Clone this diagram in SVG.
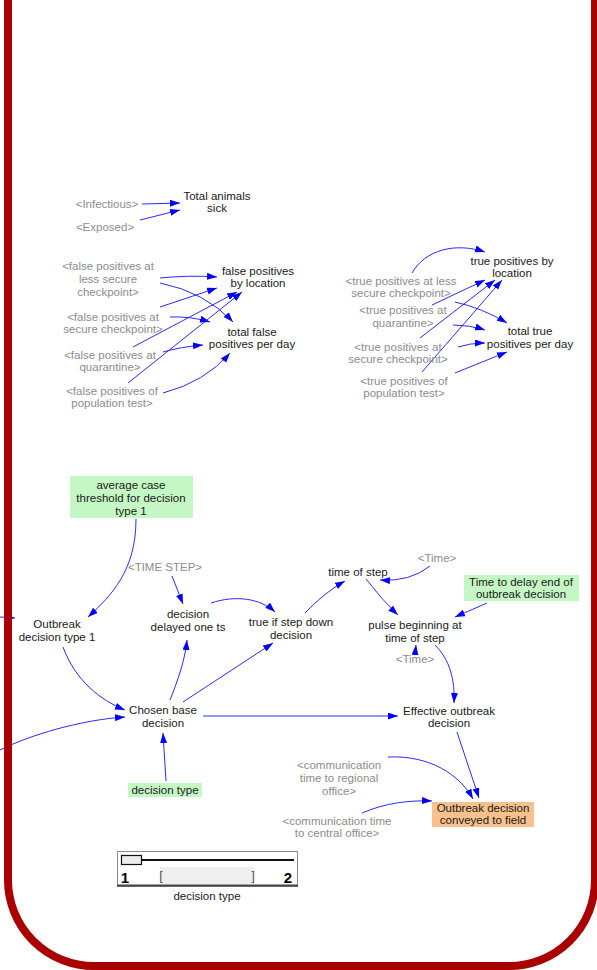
<svg xmlns="http://www.w3.org/2000/svg" width="597" height="970" viewBox="0 0 597 970">
  <style>
    text { font-family: "Liberation Sans", Arial, sans-serif; font-size: 11.5px; text-anchor: middle; }
    .v { fill: #1a1a1a; }
    .s { fill: #8c8c8c; }
    .ln { fill: none; stroke: #2b2bff; stroke-width: 1; marker-end: url(#ah); }
    .num { font-family: "Liberation Sans Narrow", "Liberation Sans", sans-serif; font-size: 15px; font-weight: bold; fill: #000; }
    .br { fill: #555555; font-size: 13px; }
  </style>
  <defs>
    <marker id="ah" markerUnits="userSpaceOnUse" markerWidth="11" markerHeight="8" refX="10" refY="3.5" orient="auto">
      <path d="M0,0 L10,3.5 L0,7 z" fill="#0000ff"/>
    </marker>
  </defs>

  <rect width="597" height="970" fill="#ffffff"/>

  <!-- connectors -->
  <g id="connectors">
    <path class="ln" d="M142,204 L180,203"/>
    <path class="ln" d="M140,220 L180,210"/>
    <path class="ln" d="M160,278 Q190,275 217,277"/>
    <path class="ln" d="M160,283 Q205,292 233,322"/>
    <path class="ln" d="M160,307 L217,288"/>
    <path class="ln" d="M170,317 Q190,316 210,322"/>
    <path class="ln" d="M133,347 L237,292"/>
    <path class="ln" d="M163,352 Q180,347 203,345"/>
    <path class="ln" d="M128,383 L242,292"/>
    <path class="ln" d="M163,393 Q205,382 230,353"/>

    <path class="ln" d="M412,273 C425,250 455,242 485,252"/>
    <path class="ln" d="M432,305 L485,280"/>
    <path class="ln" d="M455,302 Q482,308 507,323"/>
    <path class="ln" d="M420,338 L495,280"/>
    <path class="ln" d="M453,325 Q470,325 485,330"/>
    <path class="ln" d="M458,347 Q470,343 485,343"/>
    <path class="ln" d="M422,372 L502,280"/>
    <path class="ln" d="M455,373 Q482,362 507,352"/>

    <path class="ln" d="M0,617 L15,618"/>
    <path class="ln" d="M136,519 C136,570 112,595 88,617"/>
    <path class="ln" d="M172,576 L183,604"/>
    <path class="ln" d="M211,603 C235,595 260,598 275,612"/>
    <path class="ln" d="M63,647 C75,680 100,700 125,710"/>
    <path class="ln" d="M0,750 C30,735 80,720 125,717"/>
    <path class="ln" d="M166,781 L163,733"/>
    <path class="ln" d="M170,700 C178,680 185,660 187,640"/>
    <path class="ln" d="M183,702 L273,643"/>
    <path class="ln" d="M203,716 L398,716"/>
    <path class="ln" d="M305,613 Q325,592 345,581"/>
    <path class="ln" d="M430,566 Q410,582 380,580"/>
    <path class="ln" d="M366,579 Q382,600 398,615"/>
    <path class="ln" d="M487,603 L455,617"/>
    <path class="ln" d="M415,655 L416,645"/>
    <path class="ln" d="M435,645 C450,660 455,680 454,703"/>
    <path class="ln" d="M457,732 L479,798"/>
    <path class="ln" d="M388,757 C430,755 460,775 473,799"/>
    <path class="ln" d="M362,813 C385,803 410,800 432,801"/>
  </g>

  <!-- infection totals -->
  <g id="infectious"><text class="s" x="107" y="208">&lt;Infectious&gt;</text></g>
  <g id="exposed"><text class="s" x="105" y="231">&lt;Exposed&gt;</text></g>
  <g id="total-animals-sick"><text class="v" x="217" y="200">Total animals</text><text class="v" x="217" y="212">sick</text></g>

  <!-- false positives -->
  <g id="fp-less-secure"><text class="s" x="108" y="270">&lt;false positives at</text><text class="s" x="108" y="283">less secure</text><text class="s" x="108" y="296">checkpoint&gt;</text></g>
  <g id="fp-by-location"><text class="v" x="258" y="275">false positives</text><text class="v" x="258" y="287">by location</text></g>
  <g id="fp-secure"><text class="s" x="113" y="321">&lt;false positives at</text><text class="s" x="113" y="333">secure checkpoint&gt;</text></g>
  <g id="fp-total"><text class="v" x="252" y="336">total false</text><text class="v" x="252" y="348">positives per day</text></g>
  <g id="fp-quarantine"><text class="s" x="110" y="359">&lt;false positives at</text><text class="s" x="110" y="371">quarantine&gt;</text></g>
  <g id="fp-population"><text class="s" x="112" y="395">&lt;false positives of</text><text class="s" x="112" y="407">population test&gt;</text></g>

  <!-- true positives -->
  <g id="tp-by-location"><text class="v" x="512" y="265">true positives by</text><text class="v" x="512" y="277">location</text></g>
  <g id="tp-less-secure"><text class="s" x="401" y="285">&lt;true positives at less</text><text class="s" x="401" y="297">secure checkpoint&gt;</text></g>
  <g id="tp-quarantine"><text class="s" x="403" y="314">&lt;true positives at</text><text class="s" x="403" y="327">quarantine&gt;</text></g>
  <g id="tp-total"><text class="v" x="530" y="335">total true</text><text class="v" x="530" y="348">positives per day</text></g>
  <g id="tp-secure"><text class="s" x="398" y="351">&lt;true positives at</text><text class="s" x="398" y="363">secure checkpoint&gt;</text></g>
  <g id="tp-population"><text class="s" x="404" y="385">&lt;true positives of</text><text class="s" x="404" y="397">population test&gt;</text></g>

  <!-- outbreak decision chain -->
  <g id="avg-case-threshold">
    <rect x="70" y="476" width="123" height="42" fill="#c4f7c4"/>
    <text class="v" x="131" y="489">average case</text><text class="v" x="131" y="502">threshold for decision</text><text class="v" x="131" y="515">type 1</text>
  </g>
  <g id="time-step"><text class="s" x="165" y="571">&lt;TIME STEP&gt;</text></g>
  <g id="decision-delayed"><text class="v" x="188" y="618">decision</text><text class="v" x="188" y="631">delayed one ts</text></g>
  <g id="true-if-step-down"><text class="v" x="291" y="626">true if step down</text><text class="v" x="291" y="639">decision</text></g>
  <g id="outbreak-decision-type-1"><text class="v" x="57" y="628">Outbreak</text><text class="v" x="57" y="641">decision type 1</text></g>
  <g id="chosen-base-decision"><text class="v" x="163" y="714">Chosen base</text><text class="v" x="163" y="727">decision</text></g>
  <g id="decision-type">
    <rect x="128" y="783" width="74" height="14" fill="#c4f7c4"/>
    <text class="v" x="165" y="794">decision type</text>
  </g>
  <g id="time-of-step"><text class="v" x="358" y="576">time of step</text></g>
  <g id="time-a"><text class="s" x="437" y="562">&lt;Time&gt;</text></g>
  <g id="time-to-delay-end">
    <rect x="464" y="575" width="115" height="26" fill="#c4f7c4"/>
    <text class="v" x="521" y="586">Time to delay end of</text><text class="v" x="521" y="598">outbreak decision</text>
  </g>
  <g id="pulse-beginning"><text class="v" x="415" y="629">pulse beginning at</text><text class="v" x="415" y="642">time of step</text></g>
  <g id="time-b"><text class="s" x="415" y="663">&lt;Time&gt;</text></g>
  <g id="effective-outbreak-decision"><text class="v" x="449" y="715">Effective outbreak</text><text class="v" x="449" y="727">decision</text></g>
  <g id="comm-time-regional"><text class="s" x="339" y="769">&lt;communication</text><text class="s" x="339" y="782">time to regional</text><text class="s" x="339" y="795">office&gt;</text></g>
  <g id="comm-time-central"><text class="s" x="337" y="825">&lt;communication time</text><text class="s" x="337" y="837">to central office&gt;</text></g>
  <g id="outbreak-decision-conveyed">
    <rect x="432" y="802" width="102" height="25" fill="#f8c08c"/>
    <text class="v" x="483" y="812">Outbreak decision</text><text class="v" x="483" y="824">conveyed to field</text>
  </g>

  <!-- slider control for decision type -->
  <g id="decision-type-slider">
    <rect x="117.5" y="851.5" width="180" height="35" fill="#ffffff" stroke="#8a8a8a" stroke-width="1"/>
    <line x1="117" y1="885.5" x2="298" y2="885.5" stroke="#444" stroke-width="2"/>
    <line x1="141" y1="860" x2="294" y2="860" stroke="#111" stroke-width="2"/>
    <rect x="121.5" y="855.5" width="20" height="9" fill="#ececec" stroke="#111" stroke-width="1.2"/>
    <text class="num" x="125" y="883">1</text>
    <text class="num" x="288" y="883">2</text>
    <rect x="160" y="867" width="94" height="17" fill="#efefef"/>
    <text class="br" x="161" y="880">[</text>
    <text class="br" x="253" y="880">]</text>
    <text class="v" x="207" y="900">decision type</text>
  </g>

  <!-- surrounding frame -->
  <rect x="8" y="-120" width="587" height="1086" rx="86" ry="86" fill="none" stroke="#aa0000" stroke-width="8"/>
</svg>
